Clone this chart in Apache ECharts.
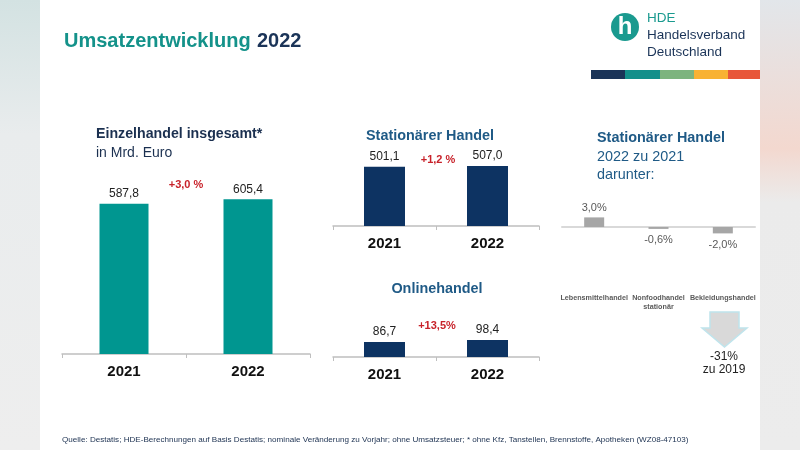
<!DOCTYPE html>
<html><head><meta charset="utf-8">
<script src="https://cdn.jsdelivr.net/npm/echarts@6/dist/echarts.min.js"></script>
<style>html,body{margin:0;padding:0;background:#fff}#c{width:800px;height:450px}</style>
</head><body><div id="c"></div>
<script>
// ---- data ----
const years = ['2021', '2022'];
const totalValues = [587.8, 605.4];      // Einzelhandel insgesamt, Mrd. Euro
const storeValues = [501.1, 507.0];      // Stationärer Handel
const onlineValues = [86.7, 98.4];       // Onlinehandel
const growthLabels = ['+3,0 %', '+1,2 %', '+13,5%'];
const segCategories = ['Lebensmittelhandel', 'Nonfoodhandel\nstationär', 'Bekleidungshandel'];
const segValues = [3.0, -0.6, -2.0];     // % 2022 zu 2021
const bekleidung2019 = ['-31%', 'zu 2019'];

const F = '"Liberation Sans", Arial, sans-serif';
const fmt = v => v.toFixed(1).replace('.', ',');
const navyText = '#1b3050';
const blueTitle = '#1f5a86';

const chart = echarts.init(document.getElementById('c'), null, {renderer: 'canvas'});

function catAxis(gi) {
  return {
    type: 'category', gridIndex: gi, data: years,
    axisLine: {lineStyle: {color: '#bfbfbf', width: 1.5}},
    axisTick: {show: true, length: 4, lineStyle: {color: '#bfbfbf'}},
    axisLabel: {color: '#111', fontFamily: F, fontWeight: 'bold', fontSize: 15, margin: 10}
  };
}
function valAxis(gi, max) {
  return {type: 'value', gridIndex: gi, min: 0, max: max, show: false, splitLine: {show: false}};
}
function barLabel() {
  return {show: true, position: 'top', distance: 4, color: '#222', fontFamily: F, fontSize: 12,
    formatter: p => fmt(p.value)};
}

const option = {
  animation: false,
  grid: [
    {left: 62, width: 248, top: 175, height: 179},
    {left: 333, width: 206, top: 155, height: 71},
    {left: 333, width: 206, top: 331, height: 26},
    {left: 562, width: 193, top: 195, height: 96}
  ],
  xAxis: [
    catAxis(0), catAxis(1), catAxis(2),
    {type: 'category', gridIndex: 3, data: segCategories,
      axisLine: {show: false, onZero: false}, axisTick: {show: false},
      axisLabel: {color: '#5a5a5a', fontFamily: F, fontSize: 7.2, fontWeight: 'bold', margin: 3, lineHeight: 9, interval: 0}},
    {type: 'category', gridIndex: 3, data: segCategories,
      axisLine: {show: true, onZero: true, lineStyle: {color: '#d9d9d9', width: 2}},
      axisTick: {show: false}, axisLabel: {show: false}}
  ],
  yAxis: [
    valAxis(0, 700), valAxis(1, 600), valAxis(2, 150),
    {type: 'value', gridIndex: 3, min: -20, max: 10, show: false, splitLine: {show: false}}
  ],
  series: [
    {type: 'bar', xAxisIndex: 0, yAxisIndex: 0, data: totalValues, barWidth: 49,
      itemStyle: {color: '#009690'}, label: barLabel()},
    {type: 'bar', xAxisIndex: 1, yAxisIndex: 1, data: storeValues, barWidth: 41,
      itemStyle: {color: '#0d3362'}, label: barLabel()},
    {type: 'bar', xAxisIndex: 2, yAxisIndex: 2, data: onlineValues, barWidth: 41,
      itemStyle: {color: '#0d3362'}, label: barLabel()},
    {type: 'bar', xAxisIndex: 3, yAxisIndex: 3, barWidth: 20,
      data: segValues.map(v => ({value: v, label: {position: v >= 0 ? 'top' : 'bottom', distance: v >= 0 ? 4 : 6}})),
      itemStyle: {color: '#a6a6a6'},
      label: {show: true, color: '#595959', fontFamily: F, fontSize: 11,
        formatter: p => fmt(p.value) + '%'}}
  ],
  graphic: [
    // slide side margins
    {type: 'rect', left: 0, top: 0, shape: {width: 40, height: 450}, silent: true,
      style: {fill: new echarts.graphic.LinearGradient(0, 0, 0, 1, [
        {offset: 0, color: '#d3e2e2'}, {offset: 0.3, color: '#e9eced'}, {offset: 1, color: '#eeeeee'}])}},
    {type: 'rect', left: 760, top: 0, shape: {width: 40, height: 450}, silent: true,
      style: {fill: new echarts.graphic.LinearGradient(0, 0, 0, 1, [
        {offset: 0, color: '#e2e6ea'}, {offset: 0.33, color: '#f3d8cf'}, {offset: 0.45, color: '#ebebeb'}, {offset: 1, color: '#ececec'}])}},
    // header
    {type: 'text', style: {text: 'Umsatzentwicklung', x: 64, y: 41, fill: '#14928a', fontFamily: F,
      fontWeight: 'bold', fontSize: 20, verticalAlign: 'middle'}},
    {type: 'text', style: {text: '2022', x: 257, y: 41, fill: '#1b3458', fontFamily: F,
      fontWeight: 'bold', fontSize: 20, verticalAlign: 'middle'}},
    // logo
    {type: 'circle', shape: {cx: 625, cy: 27, r: 14}, style: {fill: '#1a9a8f'}},
    {type: 'text', style: {text: 'h', x: 625, y: 27, fill: '#fff', fontFamily: F, fontWeight: 'bold',
      fontSize: 24, align: 'center', verticalAlign: 'middle'}},
    {type: 'text', style: {text: 'HDE', x: 647, y: 18, fill: '#1a9a8f', fontFamily: F, fontSize: 13.5, verticalAlign: 'middle'}},
    {type: 'text', style: {text: 'Handelsverband', x: 647, y: 35, fill: '#1b3458', fontFamily: F, fontSize: 13.5, verticalAlign: 'middle'}},
    {type: 'text', style: {text: 'Deutschland', x: 647, y: 52, fill: '#1b3458', fontFamily: F, fontSize: 13.5, verticalAlign: 'middle'}},
    {type: 'rect', shape: {x: 591, y: 70, width: 34, height: 9}, style: {fill: '#1b3458'}},
    {type: 'rect', shape: {x: 625, y: 70, width: 35, height: 9}, style: {fill: '#138f8a'}},
    {type: 'rect', shape: {x: 660, y: 70, width: 34, height: 9}, style: {fill: '#7db47e'}},
    {type: 'rect', shape: {x: 694, y: 70, width: 34, height: 9}, style: {fill: '#f8b234'}},
    {type: 'rect', shape: {x: 728, y: 70, width: 32, height: 9}, style: {fill: '#e8573a'}},
    // chart titles
    {type: 'text', style: {text: 'Einzelhandel insgesamt*', x: 96, y: 134, fill: navyText, fontFamily: F,
      fontWeight: 'bold', fontSize: 14.2, verticalAlign: 'middle'}},
    {type: 'text', style: {text: 'in Mrd. Euro', x: 96, y: 153, fill: navyText, fontFamily: F,
      fontSize: 14, verticalAlign: 'middle'}},
    {type: 'text', style: {text: 'Stationärer Handel', x: 430, y: 136, fill: blueTitle, fontFamily: F,
      fontWeight: 'bold', fontSize: 14.4, align: 'center', verticalAlign: 'middle'}},
    {type: 'text', style: {text: 'Onlinehandel', x: 437, y: 289, fill: blueTitle, fontFamily: F,
      fontWeight: 'bold', fontSize: 14.4, align: 'center', verticalAlign: 'middle'}},
    {type: 'text', style: {text: 'Stationärer Handel', x: 597, y: 138, fill: blueTitle, fontFamily: F,
      fontWeight: 'bold', fontSize: 14.4, verticalAlign: 'middle'}},
    {type: 'text', style: {text: '2022 zu 2021', x: 597, y: 157, fill: blueTitle, fontFamily: F,
      fontSize: 14.4, verticalAlign: 'middle'}},
    {type: 'text', style: {text: 'darunter:', x: 597, y: 175, fill: blueTitle, fontFamily: F,
      fontSize: 14.4, verticalAlign: 'middle'}},
    // growth annotations
    {type: 'text', style: {text: growthLabels[0], x: 186, y: 185, fill: '#c8222a', fontFamily: F,
      fontWeight: 'bold', fontSize: 11, align: 'center', verticalAlign: 'middle'}},
    {type: 'text', style: {text: growthLabels[1], x: 438, y: 160, fill: '#c8222a', fontFamily: F,
      fontWeight: 'bold', fontSize: 11, align: 'center', verticalAlign: 'middle'}},
    {type: 'text', style: {text: growthLabels[2], x: 437, y: 326, fill: '#c8222a', fontFamily: F,
      fontWeight: 'bold', fontSize: 11, align: 'center', verticalAlign: 'middle'}},
    // arrow
    {type: 'polygon', shape: {points: [[710, 312], [739, 312], [739, 328], [747, 328], [724.5, 347], [702, 328], [710, 328]]},
      style: {fill: '#d9d9d9', stroke: '#bfe4ec', lineWidth: 1.5}},
    {type: 'text', style: {text: bekleidung2019[0], x: 724, y: 357, fill: '#222', fontFamily: F,
      fontSize: 12, align: 'center', verticalAlign: 'middle'}},
    {type: 'text', style: {text: bekleidung2019[1], x: 724, y: 370, fill: '#222', fontFamily: F,
      fontSize: 12, align: 'center', verticalAlign: 'middle'}},
    // footnote
    {type: 'text', style: {text: 'Quelle: Destatis; HDE-Berechnungen auf Basis Destatis; nominale Veränderung zu Vorjahr; ohne Umsatzsteuer; * ohne Kfz, Tanstellen, Brennstoffe, Apotheken (WZ08-47103)',
      x: 62, y: 440, fill: '#1b3050', fontFamily: F, fontSize: 8.1, verticalAlign: 'middle'}}
  ]
};
chart.setOption(option);
</script></body></html>
